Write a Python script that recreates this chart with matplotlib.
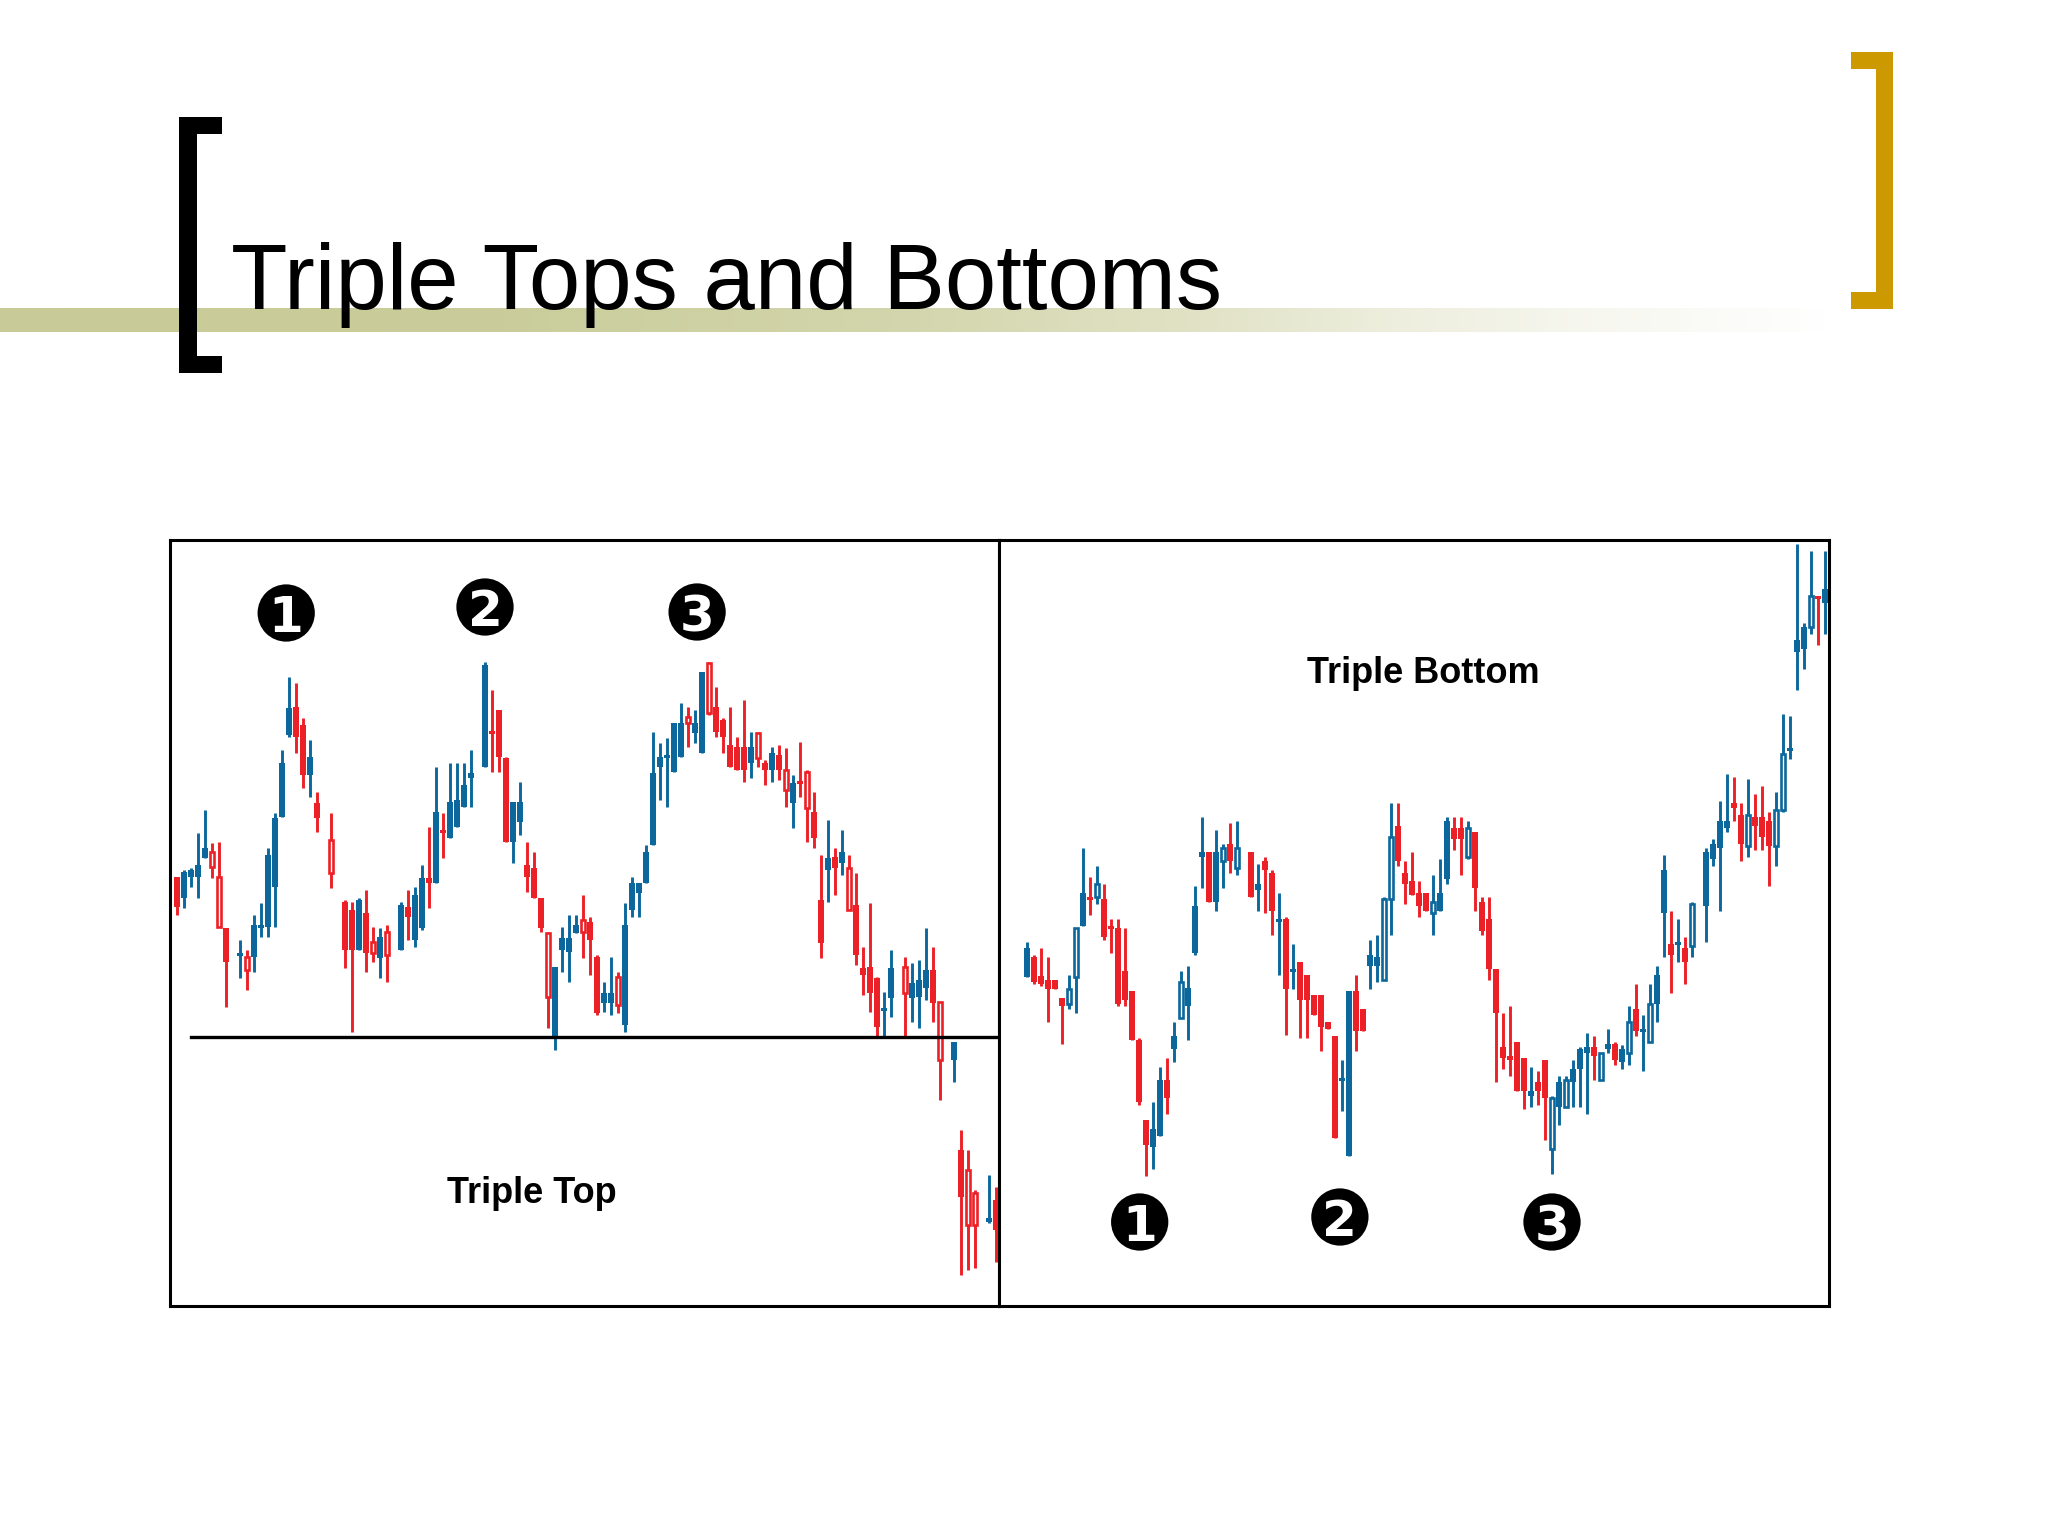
import matplotlib
matplotlib.use("Agg")
import matplotlib.pyplot as plt
import numpy as np
from matplotlib.patches import Rectangle
from matplotlib.colors import to_rgb

# ---------------- DATA ----------------
# Left panel: Triple Top (price units, day index)
L_day = [1, 2, 3, 4, 5, 6, 7, 8, 10, 11, 12, 13, 14, 15, 16, 17, 18, 19, 20, 21,
         23, 25, 26, 27, 28, 29, 30, 31, 33, 34, 35, 36, 37, 38, 39, 40, 41, 42, 43, 45,
         46, 47, 48, 49, 50, 51, 52, 53, 54, 55, 56, 57, 58, 59, 60, 61, 62, 63, 64, 65,
         66, 67, 68, 69, 70, 71, 72, 73, 74, 75, 76, 77, 78, 79, 80, 81, 82, 83, 84, 85,
         86, 87, 88, 89, 90, 91, 92, 93, 94, 95, 96, 97, 98, 99, 100, 101, 102, 103, 105, 106,
         107, 108, 109, 110, 112, 113, 114, 115, 117, 118]
L_high = [429, 436, 438, 473, 496, 463, 464, 378, 366, 356, 391, 403, 458, 493, 556, 629, 623, 588, 566, 514,
          493, 406, 404, 408, 416, 379, 378, 381, 404, 416, 419, 441, 479, 539, 493, 543, 543, 543, 556, 644,
          616, 596, 549, 504, 524, 464, 454, 408, 374, 339, 379, 391, 391, 411, 389, 351, 324, 349, 334, 403,
          429, 423, 461, 574, 563, 568, 583, 603, 599, 596, 634, 644, 619, 588, 599, 569, 606, 574, 574, 546,
          559, 561, 558, 531, 564, 536, 514, 451, 486, 458, 476, 451, 433, 359, 403, 329, 314, 356, 349, 343,
          346, 378, 359, 304, 264, 176, 156, 116, 131, 119]
L_low = [391, 398, 419, 408, 448, 428, 379, 299, 328, 316, 334, 369, 369, 379, 489, 569, 553, 518, 509, 474,
         418, 338, 274, 356, 334, 344, 328, 324, 356, 366, 359, 376, 398, 423, 448, 468, 479, 499, 499, 539,
         534, 534, 464, 443, 471, 414, 408, 374, 278, 256, 334, 324, 373, 348, 331, 291, 294, 291, 293, 274,
         389, 389, 423, 461, 506, 499, 534, 549, 559, 563, 553, 591, 569, 553, 539, 536, 524, 528, 539, 521,
         524, 526, 499, 478, 509, 464, 458, 348, 404, 411, 431, 396, 341, 311, 294, 269, 269, 289, 269, 284,
         278, 306, 284, 206, 224, 31, 36, 38, 83, 44]
L_open = [429, 434, 436, 441, 458, 439, 379, 378, 353, 336, 381, 381, 451, 488, 543, 598, 599, 581, 549, 503,
          433, 404, 396, 406, 393, 353, 369, 351, 401, 399, 411, 428, 428, 494, 476, 504, 506, 521, 533, 641,
          574, 596, 548, 504, 504, 441, 438, 408, 309, 339, 368, 368, 381, 374, 384, 349, 313, 313, 301, 381,
          423, 423, 454, 533, 549, 551, 583, 583, 583, 583, 634, 593, 599, 586, 561, 559, 559, 559, 548, 543,
          553, 551, 516, 523, 524, 498, 494, 406, 448, 449, 454, 396, 401, 338, 339, 328, 298, 338, 313, 323,
          326, 336, 336, 246, 264, 156, 81, 81, 88, 106]
L_close = [399, 408, 429, 429, 448, 454, 429, 344, 350, 349, 349, 378, 379, 419, 489, 571, 569, 531, 531, 488,
           466, 356, 356, 356, 353, 364, 348, 374, 356, 389, 366, 378, 423, 423, 473, 468, 479, 499, 528, 539,
           573, 549, 464, 464, 484, 429, 408, 378, 373, 269, 356, 354, 373, 386, 366, 293, 303, 303, 329, 281,
           396, 413, 423, 461, 539, 549, 534, 549, 589, 573, 553, 643, 574, 569, 539, 536, 536, 543, 573, 536,
           536, 536, 536, 503, 523, 534, 468, 363, 436, 438, 443, 438, 351, 331, 313, 279, 296, 308, 339, 308,
           309, 318, 303, 304, 246, 109, 136, 113, 84, 76]
L_color = list("RBBBBRRRBRBBBBBBRRBR"
               "RRRBRRBRBRBBRBRBBBBB"
               "RRRBBRRRRBBBBRRRBBRB"
               "BBBBBBBBRBBRRRRRRBRR"
               "BRRBRRRRBRBRRRRRBBRB"
               "BBRRBRRRBR")
L_support = 269          # support (neckline) price
L_marks_day = [16.6, 45.0, 75.3]
L_marks_price = [693, 699, 694]

# Right panel: Triple Bottom
R_day = [4, 5, 6, 7, 8, 9, 10, 11, 12, 13, 14, 15, 16, 17, 18, 19, 20, 21, 22, 23,
         24, 25, 26, 27, 28, 29, 30, 31, 32, 33, 34, 36, 37, 38, 39, 40, 41, 42, 43, 44,
         45, 46, 47, 48, 49, 50, 51, 52, 53, 54, 55, 56, 57, 58, 59, 60, 61, 62, 63, 64,
         65, 66, 67, 68, 69, 70, 71, 72, 73, 74, 75, 76, 77, 78, 79, 80, 81, 82, 83, 84,
         85, 86, 87, 88, 89, 90, 91, 92, 93, 94, 95, 96, 97, 98, 99, 101, 102, 103, 104, 105,
         106, 107, 108, 109, 110, 111, 112, 113, 114, 115, 116, 117, 118]
R_high = [364, 351, 358, 349, 326, 308, 331, 378, 458, 429, 440, 422, 387, 387, 378, 315, 268, 186, 204, 239,
          248, 284, 335, 340, 420, 489, 454, 476, 462, 483, 485, 454, 442, 449, 436, 413, 389, 362, 344, 331,
          311, 311, 284, 270, 246, 315, 331, 297, 366, 371, 409, 503, 503, 445, 454, 425, 413, 431, 447, 489,
          489, 489, 485, 474, 409, 409, 337, 293, 300, 264, 248, 239, 235, 246, 210, 230, 230, 246, 259, 273,
          270, 253, 277, 264, 261, 300, 322, 291, 322, 340, 451, 395, 387, 369, 404, 458, 467, 505, 532, 529,
          503, 527, 512, 520, 494, 514, 592, 590, 762, 683, 755, 710, 755]
R_low = [329, 322, 320, 284, 317, 262, 297, 293, 380, 391, 402, 366, 353, 300, 300, 266, 201, 130, 137, 170,
         192, 244, 288, 266, 351, 418, 404, 395, 418, 433, 431, 409, 395, 393, 371, 331, 271, 317, 268, 268,
         291, 255, 277, 168, 195, 150, 255, 275, 317, 324, 326, 371, 440, 402, 411, 389, 395, 371, 395, 422,
         456, 431, 447, 395, 371, 326, 224, 237, 230, 215, 197, 199, 201, 166, 132, 181, 199, 199, 199, 192,
         226, 226, 253, 241, 237, 241, 270, 235, 264, 284, 349, 313, 344, 322, 349, 364, 440, 395, 474, 485,
         445, 449, 456, 456, 420, 440, 494, 547, 616, 637, 672, 661, 672]
R_open = [358, 349, 330, 326, 326, 308, 302, 329, 413, 409, 409, 407, 380, 378, 335, 315, 266, 186, 177, 226,
          226, 270, 288, 318, 400, 454, 454, 454, 445, 462, 438, 454, 422, 445, 433, 387, 387, 337, 344, 331,
          311, 311, 284, 270, 228, 315, 315, 297, 351, 349, 326, 407, 480, 433, 425, 413, 413, 393, 413, 485,
          478, 478, 449, 474, 404, 387, 337, 259, 250, 264, 248, 215, 224, 246, 157, 224, 199, 237, 257, 259,
          259, 226, 262, 262, 257, 253, 297, 277, 264, 331, 436, 362, 364, 358, 360, 454, 462, 485, 485, 503,
          491, 460, 489, 489, 485, 460, 496, 558, 666, 679, 679, 710, 717]
R_close = [329, 324, 322, 317, 317, 300, 317, 378, 380, 407, 422, 369, 378, 302, 306, 266, 204, 161, 159, 170,
           208, 257, 324, 300, 353, 449, 404, 404, 458, 445, 458, 409, 416, 436, 395, 384, 317, 335, 306, 306,
           291, 279, 277, 168, 226, 150, 275, 275, 340, 340, 407, 469, 445, 422, 411, 400, 395, 404, 395, 427,
           467, 467, 478, 418, 375, 337, 293, 248, 246, 215, 215, 210, 215, 208, 208, 199, 226, 224, 237, 253,
           250, 253, 257, 246, 244, 284, 275, 275, 302, 302, 393, 351, 362, 344, 402, 400, 447, 458, 478, 498,
           462, 491, 480, 469, 460, 496, 552, 556, 654, 657, 710, 708, 703]
R_color = list("BRRRRRBBBRBRRRRRRRBB"
               "RBBBBBRBBRBRBRRBRBRR"
               "RRRRBBRRBBBBRRRRRBBB"
               "RRBRRRRRRRRBRRBBBBBB"
               "RBBRBBRBBBBRBRBBBBBR"
               "RBRRRBBBBBBRB")
R_marks_day = [20.1, 48.7, 79.0]
R_marks_price = [84, 89, 84]

mark_labels = ["1", "2", "3"]
panel_titles = ["Triple Top", "Triple Bottom"]
title = "Triple Tops and Bottoms"

RED = "#EC2127"
BLUE = "#0B679C"

# ---------------- FIGURE ----------------
W, H = 2048, 1536
fig = plt.figure(figsize=(W / 100, H / 100), dpi=100)
fig.patch.set_facecolor("white")

bg = fig.add_axes([0, 0, 1, 1])
bg.axis("off")

# olive gradient band
xs = np.arange(0, 1830)
alpha = np.interp(xs, [0, 500, 900, 1200, 1400, 1600, 1830],
                  [1.0, 0.97, 0.8, 0.55, 0.32, 0.15, 0.0])
img = np.ones((1, len(xs), 4))
img[..., :3] = to_rgb("#C8CB97")
img[..., 3] = alpha
bg.imshow(img, extent=(0, 1830, 332, 308), aspect="auto",
          interpolation="bilinear", zorder=1)
bg.set_xlim(0, W)
bg.set_ylim(H, 0)

# black left bracket
for (x, y, w, h) in [(179, 117, 18, 256), (179, 117, 43, 17), (179, 356, 43, 17)]:
    bg.add_patch(Rectangle((x, y), w, h, facecolor="black", edgecolor="none", zorder=4))
# gold right bracket
for (x, y, w, h) in [(1876, 52, 17, 257), (1851, 52, 42, 17), (1851, 292, 42, 17)]:
    bg.add_patch(Rectangle((x, y), w, h, facecolor="#CC9A00", edgecolor="none", zorder=4))

bg.text(231, 309, title, fontsize=66.5, family=["Liberation Sans", "DejaVu Sans"],
        ha="left", va="baseline", color="black", zorder=5)

PX = 7.0  # pixels per trading day


def make_panel(rect_px, ndays_px):
    x0, y0, w, h = rect_px
    ax = fig.add_axes([x0 / W, 1 - (y0 + h) / H, w / W, h / H])
    ax.set_xlim(0, ndays_px / PX)
    ax.set_ylim(0, h)
    ax.set_xticks([])
    ax.set_yticks([])
    ax.set_facecolor("white")
    for s in ax.spines.values():
        s.set_linewidth(2.2)
        s.set_color("black")
    return ax


def draw_candles(ax, day, hi, lo, op, cl, col):
    day = np.asarray(day, float)
    hi = np.asarray(hi, float); lo = np.asarray(lo, float)
    op = np.asarray(op, float); cl = np.asarray(cl, float)
    colors = np.array([RED if c == "R" else BLUE for c in col])
    top = np.maximum(op, cl); bot = np.minimum(op, cl)
    hgt = np.maximum(top - bot, 3.0)
    bot = (top + bot) / 2 - hgt / 2
    hollow = cl > op
    ax.vlines(day, lo, hi, colors=colors, linewidth=2.1, zorder=2)
    f = ~hollow
    ax.bar(day[f], hgt[f], bottom=bot[f], width=0.95, color=colors[f],
           edgecolor="none", zorder=3)
    ax.bar(day[hollow], hgt[hollow], bottom=bot[hollow], width=0.68,
           facecolor="white", edgecolor=colors[hollow], linewidth=1.9, zorder=3)


def draw_marks(ax, mday, mprice):
    ax.scatter(mday, mprice, s=1700, color="black", zorder=6, edgecolors="none")
    for d, p, lab in zip(mday, mprice, mark_labels):
        ax.text(d, p - 19, lab, color="white", fontsize=36, fontweight="bold",
                ha="center", va="baseline", zorder=7, family="DejaVu Sans")


narrow = ["Liberation Sans Narrow", "Liberation Sans", "DejaVu Sans"]

axL = make_panel((170, 540, 829, 766), 829)
draw_candles(axL, L_day, L_high, L_low, L_open, L_close, L_color)
axL.plot([3.0, 829 / PX], [L_support, L_support], color="black", linewidth=2.4, zorder=4)
draw_marks(axL, L_marks_day, L_marks_price)
axL.text(51.7, 103, panel_titles[0], fontsize=26, fontweight="bold", family=narrow,
         ha="center", va="baseline", color="black", zorder=5)

axR = make_panel((999, 540, 830, 766), 830)
draw_candles(axR, R_day, R_high, R_low, R_open, R_close, R_color)
draw_marks(axR, R_marks_day, R_marks_price)
axR.text(60.6, 623, panel_titles[1], fontsize=26, fontweight="bold", family=narrow,
         ha="center", va="baseline", color="black", zorder=5)

fig.savefig("out.png", dpi=100, facecolor="white")
